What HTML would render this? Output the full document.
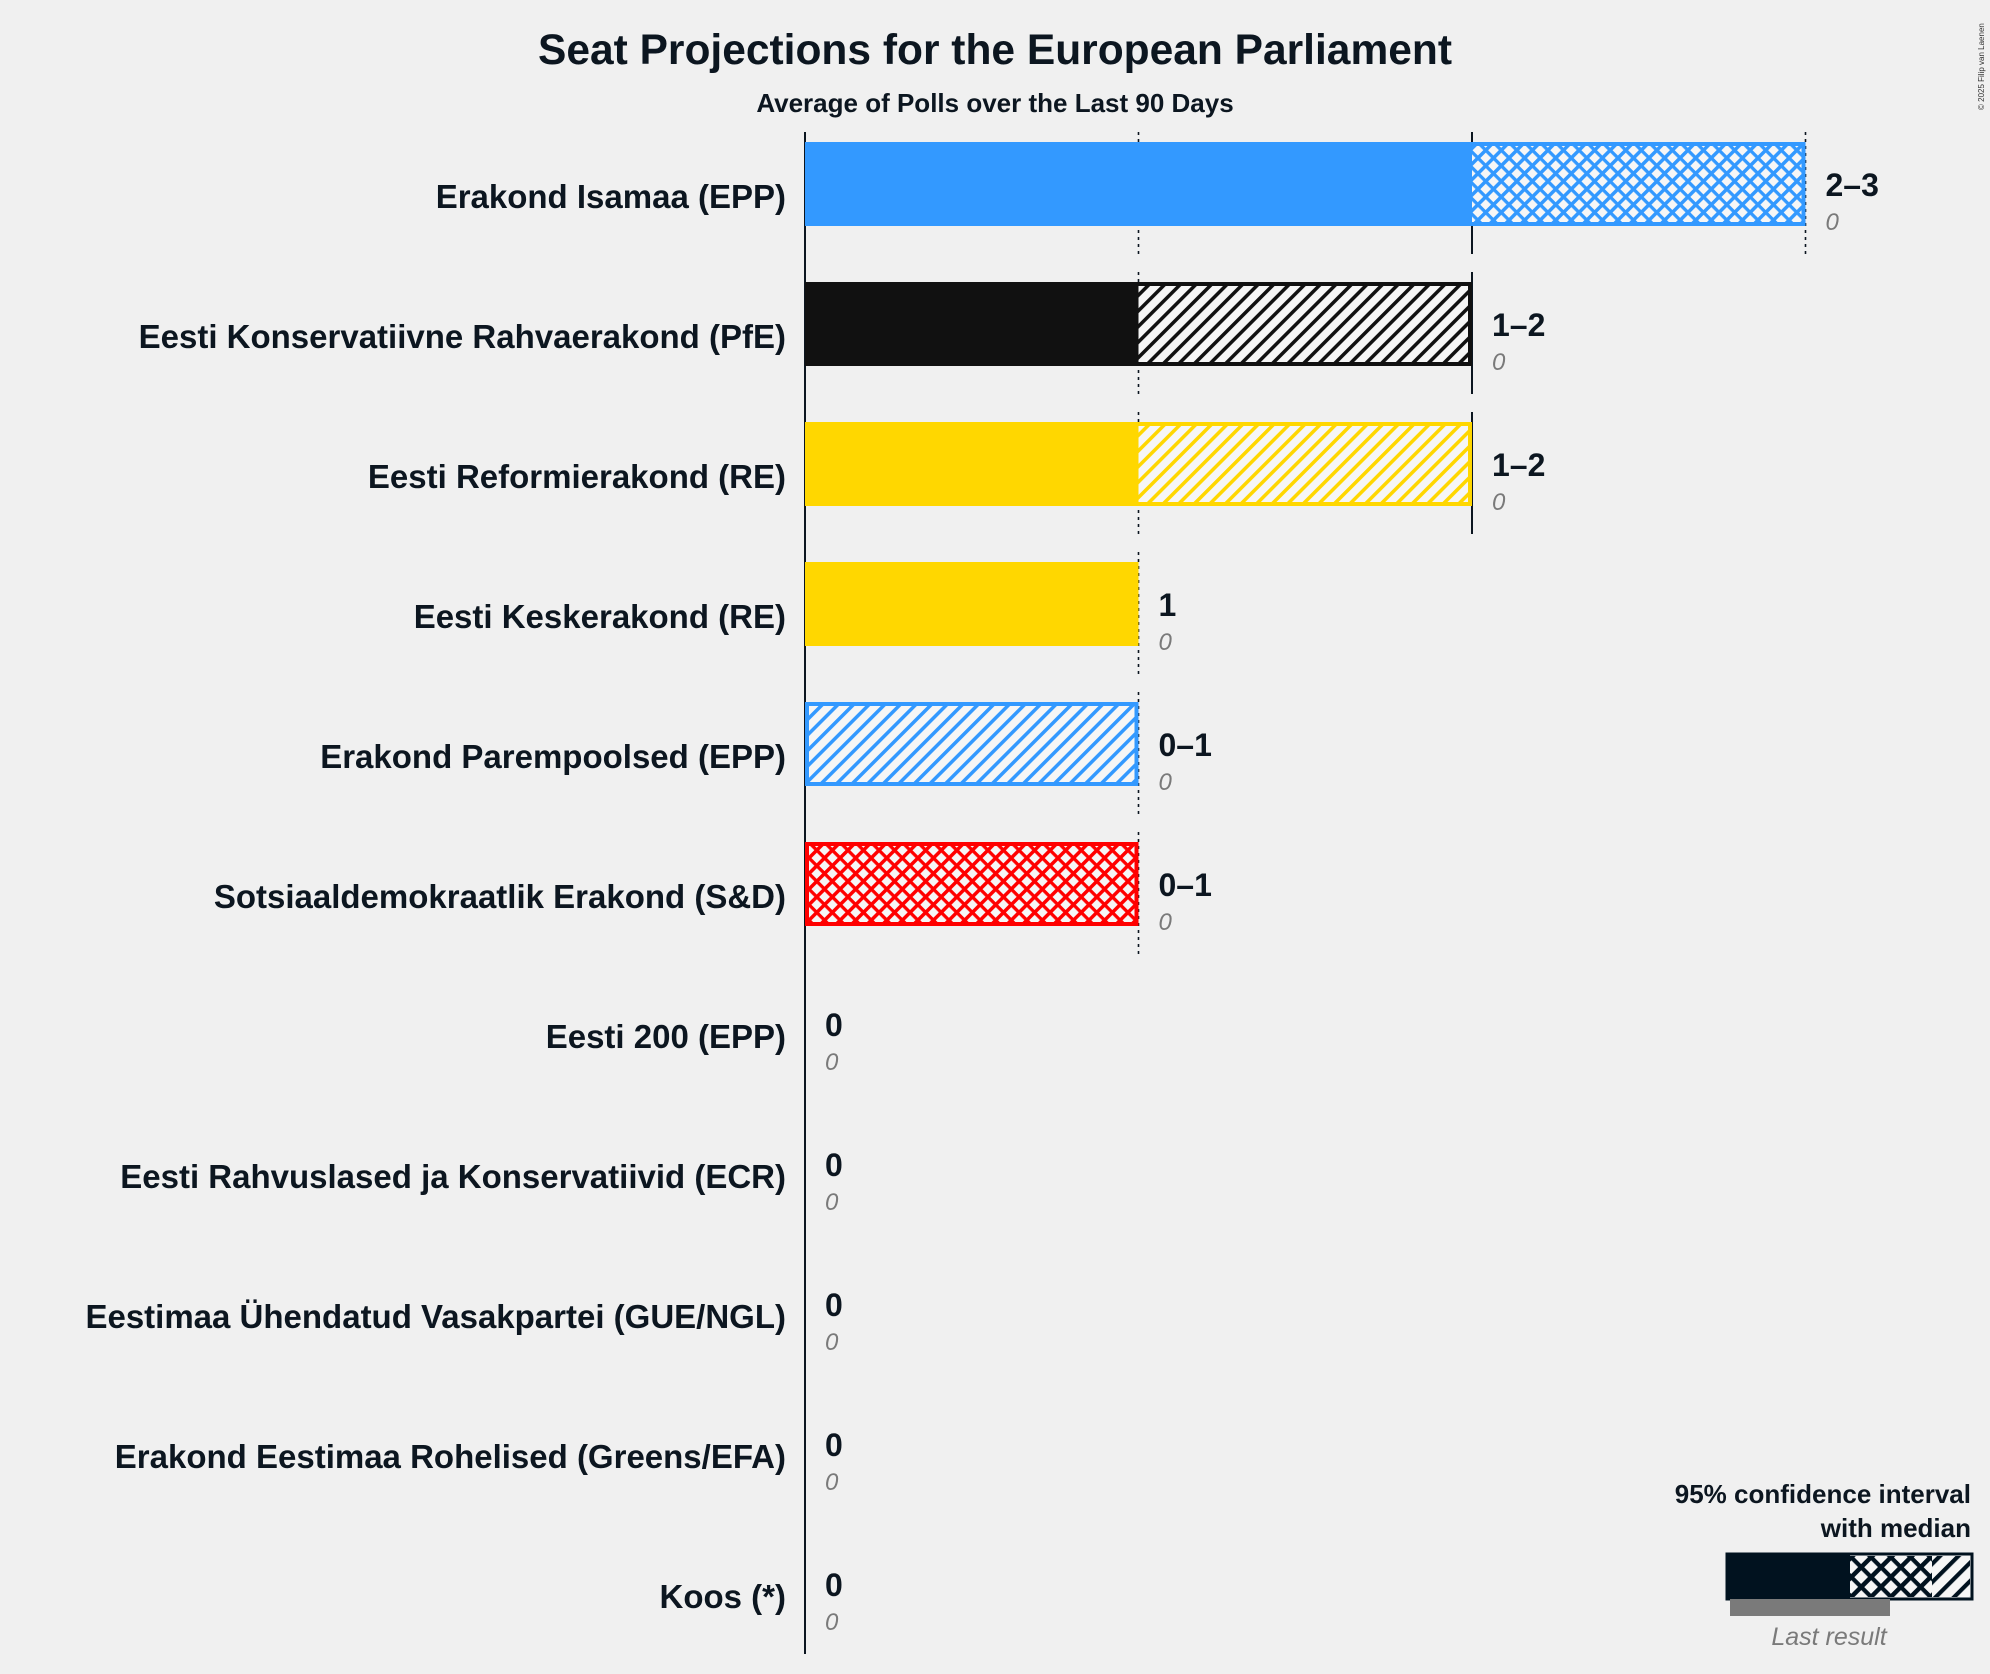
<!DOCTYPE html>
<html><head><meta charset="utf-8"><style>
html,body{margin:0;padding:0;background:#f0f0f0;}
svg{display:block;font-family:"Liberation Sans",sans-serif;}
</style></head><body>
<svg id="chart" width="1990" height="1674" viewBox="0 0 1990 1674">
<defs></defs>
<rect width="1990" height="1674" fill="#f0f0f0"/>
<text x="995" y="64" text-anchor="middle" font-size="42.5" font-weight="bold" fill="#0c1620">Seat Projections for the European Parliament</text>
<text x="995" y="112" text-anchor="middle" font-size="26" font-weight="bold" fill="#0c1620">Average of Polls over the Last 90 Days</text>
<text transform="translate(1984,110) rotate(-90)" font-size="8" fill="#333">© 2025 Filip van Laenen</text>
<g id="grid"></g>
<g id="bars"></g>
<g id="labels"></g>
<g>
<text x="1971" y="1503" text-anchor="end" font-size="26" font-weight="bold" fill="#0c1620">95% confidence interval</text>
<text x="1971" y="1537" text-anchor="end" font-size="26" font-weight="bold" fill="#0c1620">with median</text>
<rect x="1727" y="1554" width="123" height="45" fill="#01121f"/>
<rect x="1850" y="1556" width="82" height="41" fill="url(#cross-legend)"/>
<rect x="1932" y="1556" width="38" height="41" fill="url(#hatch-legend)"/>
<rect x="1727" y="1554" width="245" height="45" fill="none" stroke="#01121f" stroke-width="3"/>
<rect x="1730" y="1599" width="160" height="17" fill="#7a7a7a"/>
<text x="1829" y="1645" text-anchor="middle" font-size="25" font-style="italic" fill="#7a7a7a">Last result</text>
</g>
</svg>
<script>
const parties = ["Erakond Isamaa (EPP)","Eesti Konservatiivne Rahvaerakond (PfE)","Eesti Reformierakond (RE)","Eesti Keskerakond (RE)","Erakond Parempoolsed (EPP)","Sotsiaaldemokraatlik Erakond (S&D)","Eesti 200 (EPP)","Eesti Rahvuslased ja Konservatiivid (ECR)","Eestimaa Ühendatud Vasakpartei (GUE/NGL)","Erakond Eestimaa Rohelised (Greens/EFA)","Koos (*)"];
const ciLow = [2,1,1,1,0,0,0,0,0,0,0];
const median = [2,1,1,1,0,0,0,0,0,0,0];
const ciHigh = [3,2,2,1,1,1,0,0,0,0,0];
const lastResult = [0,0,0,0,0,0,0,0,0,0,0];
const rangeLabels = ["2–3","1–2","1–2","1","0–1","0–1","0","0","0","0","0"];
const colors = ["#3399ff","#111111","#ffd700","#ffd700","#3399ff","#ff0000","#3399ff","#1a3a6a","#cc0000","#33aa33","#888888"];
const hatchStyle = ["cross","diag","diag","diag","diag","cross","diag","diag","diag","diag","diag"];

const NS="http://www.w3.org/2000/svg";
const svg=document.getElementById('chart');
const defs=svg.querySelector('defs');
const x0=805, unit=333.5, rowTop=184, rowStep=140, halfH=42;
const xs=v=>x0+v*unit;
const ys=i=>rowTop+i*rowStep;
function mk(tag,attrs,parent){const e=document.createElementNS(NS,tag);for(const k in attrs)e.setAttribute(k,attrs[k]);parent.appendChild(e);return e;}

function makePattern(id,color,type,size){
  const p=mk('pattern',{id:id,width:size,height:size,patternUnits:'userSpaceOnUse',patternTransform:'rotate(45)'},defs);
  mk('rect',{width:size,height:size,fill:'#f6f6f6'},p);
  mk('rect',{width:size*0.32,height:size,fill:color},p);
  if(type==='cross')mk('rect',{width:size,height:size*0.3,fill:color},p);
}
makePattern('cross-legend','#01121f','cross',14);
makePattern('hatch-legend','#01121f','diag',13);

const grid=document.getElementById('grid'),bars=document.getElementById('bars'),labels=document.getElementById('labels');
mk('line',{x1:x0,x2:x0,y1:ys(0)-52,y2:ys(10)+70,stroke:'#0c1620','stroke-width':2},grid);
parties.forEach((p,i)=>{
  const c=ys(i);
  for(let k=1;k<=ciHigh[i];k++){
    const ln=mk('line',{x1:xs(k),x2:xs(k),y1:c-52,y2:c+70,stroke:'#0c1620','stroke-width':k%2?1.6:2,'stroke-dasharray':k%2?'3,4':'none'},grid);
    
    
  }
  const pid='pat'+i;
  makePattern(pid,colors[i],hatchStyle[i],hatchStyle[i]==='cross'?11:11);
  const g=mk('g',{},bars);
  
  
  if(ciLow[i]>0){
    const r=mk('rect',{x:xs(0),y:c-halfH,width:xs(ciLow[i])-xs(0),height:2*halfH,fill:colors[i]},g);
    
    
  }
  if(ciHigh[i]>ciLow[i]){
    const r=mk('rect',{x:xs(ciLow[i]),y:c-halfH+2,width:xs(ciHigh[i])-xs(ciLow[i])-2,height:2*halfH-4,fill:'url(#'+pid+')'},g);
    
    
    const o=mk('rect',{x:xs(0)+2,y:c-halfH+2,width:xs(ciHigh[i])-xs(0)-4,height:2*halfH-4,fill:'none',stroke:colors[i],'stroke-width':4},g);
    
    
  }
  const t=mk('text',{x:786,y:c+24,'text-anchor':'end','font-size':33,'font-weight':'bold',fill:'#0c1620'},labels);
  t.textContent=p;
  
  
  const vx=xs(ciHigh[i])+20;
  const v=mk('text',{x:vx,y:c+12,'font-size':32,'font-weight':'bold',fill:'#0c1620'},labels);
  v.textContent=rangeLabels[i];
  
  
  const l=mk('text',{x:vx,y:c+46,'font-size':24,'font-style':'italic',fill:'#7a7a7a'},labels);
  l.textContent=String(lastResult[i]);
  
  
});
</script>
</body></html>
